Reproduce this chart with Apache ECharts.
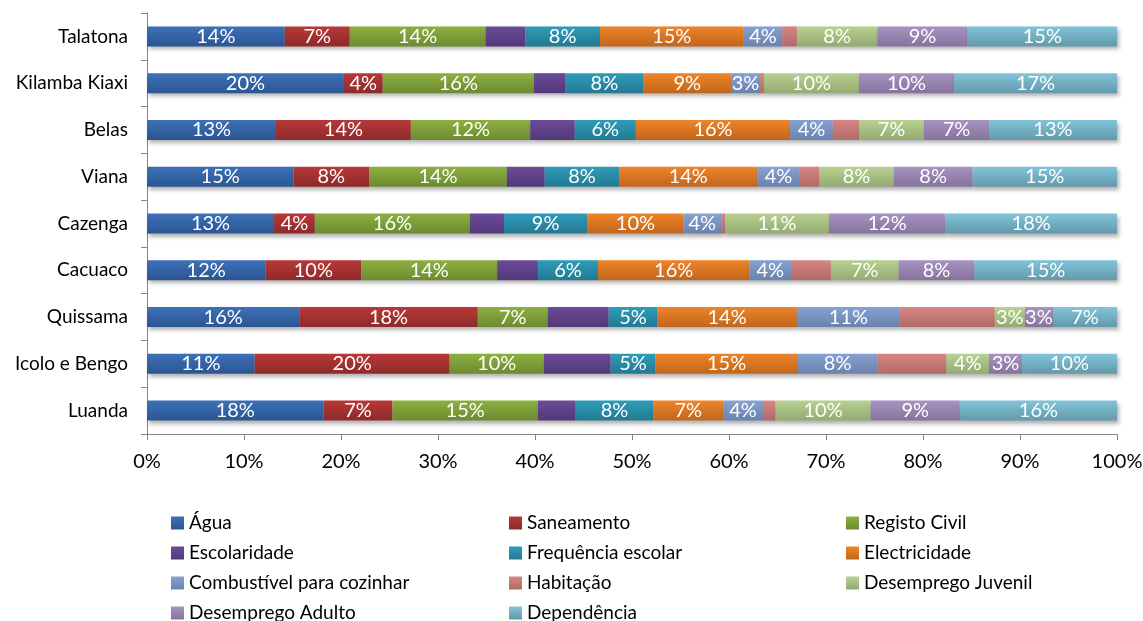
<!DOCTYPE html>
<html>
<head>
<meta charset="utf-8">
<script src="https://cdn.jsdelivr.net/npm/echarts@6/dist/echarts.min.js"></script>
<style>
  html, body { margin: 0; padding: 0; background: #fff; }
  #chart { width: 1143px; height: 621px; }
</style>
</head>
<body>
<div id="chart"></div>
<script>
// municipios, de cima para baixo
const categories = ["Talatona", "Kilamba Kiaxi", "Belas", "Viana", "Cazenga", "Cacuaco", "Quissama", "Icolo e Bengo", "Luanda"];

const agua = [14.2, 20.3, 13.3, 15.1, 13.1, 12.2, 15.7, 11.1, 18.2];
const saneamento = [6.7, 4.0, 13.9, 7.8, 4.2, 9.9, 18.4, 20.1, 7.1];
const registoCivil = [14.0, 15.6, 12.3, 14.2, 16.0, 14.0, 7.2, 9.7, 15.0];
const escolaridade = [4.1, 3.2, 4.6, 3.9, 3.5, 4.2, 6.3, 6.9, 3.9];
const frequencia = [7.7, 8.1, 6.3, 7.7, 8.6, 6.2, 5.0, 4.6, 8.0];
const electricidade = [14.8, 9.0, 15.9, 14.2, 9.9, 15.6, 14.4, 14.7, 7.2];
const combustivel = [4.0, 3.0, 4.4, 4.4, 3.9, 4.3, 10.6, 8.2, 4.1];
const habitacao = [1.5, 0.4, 2.7, 2.0, 0.4, 4.1, 9.8, 7.1, 1.3];
const desempJuvenil = [8.3, 9.8, 6.7, 7.7, 10.7, 7.0, 3.1, 4.4, 9.8];
const desempAdulto = [9.3, 9.8, 6.7, 8.1, 12.0, 7.8, 2.9, 3.4, 9.2];
const dependencia = [15.4, 16.8, 13.2, 14.9, 17.7, 14.7, 6.6, 9.8, 16.2];

const xTicks = [0, 10, 20, 30, 40, 50, 60, 70, 80, 90, 100];

const FONT = "Lato";

// [nome, dados, cor topo, cor base, mostra etiqueta]
const seriesDefs = [
  ["Água", agua, "#3d71b7", "#2b5592", true],
  ["Saneamento", saneamento, "#b93838", "#8d2a2a", true],
  ["Registo Civil", registoCivil, "#8db040", "#6c8a30", true],
  ["Escolaridade", escolaridade, "#6c4b98", "#523878", false],
  ["Frequência escolar", frequencia, "#2f9cba", "#237992", true],
  ["Electricidade", electricidade, "#ee8428", "#c1661c", true],
  ["Combustível para cozinhar", combustivel, "#86a2d2", "#6a82ac", true],
  ["Habitação", habitacao, "#d68683", "#b16a68", false],
  ["Desemprego Juvenil", desempJuvenil, "#b8d190", "#93aa72", true],
  ["Desemprego Adulto", desempAdulto, "#a892c2", "#85739d", true],
  ["Dependência", dependencia, "#82c4da", "#6399ab", true]
];

const chart = echarts.init(document.getElementById("chart"));

const series = seriesDefs.map(function (d) {
  return {
    name: d[0],
    type: "bar",
    stack: "total",
    barWidth: 20,
    data: d[1],
    itemStyle: {
      color: new echarts.graphic.LinearGradient(0, 0, 0, 1, [
        { offset: 0, color: d[2] },
        { offset: 1, color: d[3] }
      ]),
      shadowColor: "rgba(0,0,0,0.3)",
      shadowBlur: 4,
      shadowOffsetX: 2,
      shadowOffsetY: 3
    },
    label: {
      show: d[4],
      position: "inside",
      color: "#ffffff",
      fontFamily: FONT,
      fontSize: 20,
      formatter: function (p) { return Math.round(p.value) + "%"; }
    }
  };
});

function legendCol(names, left) {
  return {
    orient: "vertical",
    left: left,
    top: 507,
    height: 140,
    itemWidth: 13,
    itemHeight: 13,
    itemGap: 8,
    icon: "rect",
    data: names,
    textStyle: { fontFamily: FONT, fontSize: 19, color: "#000", lineHeight: 22 }
  };
}

const option = {
  animation: false,
  color: seriesDefs.map(function (d) { return d[2]; }),
  grid: { left: 147, right: 26, top: 13, height: 421, outerBoundsMode: "none", containLabel: false },
  legend: [
    legendCol(["Água", "Escolaridade", "Combustível para cozinhar", "Desemprego Adulto"], 166),
    legendCol(["Saneamento", "Frequência escolar", "Habitação", "Dependência"], 504),
    legendCol(["Registo Civil", "Electricidade", "Desemprego Juvenil"], 841)
  ],
  xAxis: {
    type: "value",
    min: xTicks[0],
    max: xTicks[xTicks.length - 1],
    interval: 10,
    axisLine: { show: true, lineStyle: { color: "#868686" } },
    axisTick: { show: true, length: 6, lineStyle: { color: "#868686" } },
    splitLine: { show: false },
    axisLabel: {
      margin: 18,
      fontFamily: FONT,
      fontSize: 20,
      color: "#000",
      formatter: function (v) { return v + "%"; }
    }
  },
  yAxis: {
    type: "category",
    inverse: true,
    data: categories,
    axisLine: { show: true, lineStyle: { color: "#868686" } },
    axisTick: { show: true, length: 6, lineStyle: { color: "#868686" } },
    axisLabel: { margin: 19, fontFamily: FONT, fontSize: 19, color: "#000" }
  },
  series: series
};

chart.setOption(option);
</script>
</body>
</html>
